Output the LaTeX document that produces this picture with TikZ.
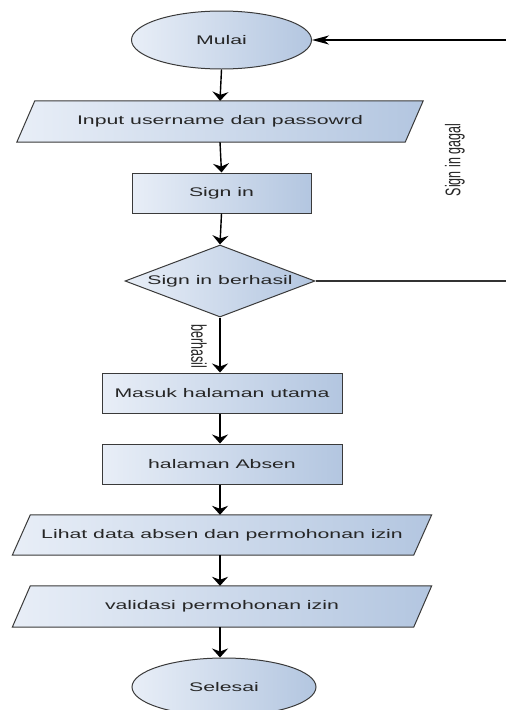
\documentclass[tikz,border=0pt]{standalone}
\usepackage{fontspec}
\setmainfont{Liberation Sans}[FakeStretch=1.7]
\newfontfamily\uprightlabel{Liberation Sans}
\usetikzlibrary{shapes.geometric,arrows.meta}

\definecolor{fillA}{HTML}{E8EEF7}
\definecolor{fillB}{HTML}{B3C6E0}
\definecolor{edge}{HTML}{3A3A3A}
\definecolor{ink}{HTML}{262626}

\tikzset{
  shadefill/.style={draw=edge, line width=1pt, left color=fillA, right color=fillB},
  flowbase/.style={shadefill, inner sep=0pt, text=ink, font=\fontsize{12.5}{14}\selectfont},
  terminal/.style={flowbase, ellipse, minimum width=180pt, minimum height=58pt},
  process/.style={flowbase, rectangle, minimum height=40pt},
  iobody/.style={rectangle, inner sep=0pt, text=ink, font=\fontsize{12.5}{14}\selectfont,
    minimum height=41pt},
  decision/.style={flowbase, diamond, minimum width=190pt, minimum height=72pt},
  flow/.style={draw=black, line width=1.4pt, -{Stealth[length=9pt, width=16pt, inset=3pt]}},
  flowh/.style={draw=black, line width=1.4pt, -{Stealth[length=17pt, width=9pt, inset=5pt]}},
  plain/.style={draw=black!80, line width=1.2pt},
  sidelabel/.style={text=ink, inner sep=0pt},
}

% slanted input/output outline around a named body node
\newcommand{\ioshape}[1]{%
  \path[shadefill] ([xshift=-9pt]#1.south west) -- ([xshift=9pt]#1.north west)
    -- ([xshift=9pt]#1.north east) -- ([xshift=-9pt]#1.south east) -- cycle;}
\newcommand{\vlabel}[1]{\scalebox{1}[1.7]{\uprightlabel\fontsize{12.5}{14}\selectfont #1}}

\begin{document}
\begin{tikzpicture}[x=1pt, y=-1pt]
  \useasboundingbox (0,0) rectangle (506,710);

  % slanted bodies first, text on top
  \node[iobody, minimum width=388pt] (input) at (220,121.5) {};
  \ioshape{input}
  \node[iobody] at (input.center) {Input username dan passowrd};
  \node[iobody, minimum width=401pt, minimum height=40pt] (lihat) at (222,535) {};
  \ioshape{lihat}
  \node[iobody] at (lihat.center) {Lihat data absen dan permohonan izin};
  \node[iobody, minimum width=401pt] (validasi) at (222,606.5) {};
  \ioshape{validasi}
  \node[iobody] at (validasi.center) {validasi permohonan izin};

  % remaining boxes
  \node[terminal] (mulai) at (221.5,40) {Mulai};
  \node[process, minimum width=179pt] (signin) at (221.5,193) {Sign in};
  \node[decision] (cek) at (220,281) {};
  \node[text=ink, font=\fontsize{12.5}{14}\selectfont] (cektext) at (cek.center) {Sign in berhasil};
  \node[process, minimum width=240pt] (utama) at (222,393) {Masuk halaman utama};
  \node[process, minimum width=240pt] (absen) at (222,464) {halaman Absen};
  \node[terminal, minimum width=184pt] (selesai) at (224,687) {Selesai};

  % return branch for a failed sign in
  \coordinate (backin) at (506,40);
  \coordinate (backout) at (506,281);
  \draw[flowh] (backin) -- (mulai.east);
  \draw[plain] (cek.east) -- (backout);
  \node[sidelabel, rotate=90] (gagal) at (455,160) {\vlabel{Sign in gagal}};

  % main flow
  \draw[flow] (mulai.south) -- (input.north);
  \draw[flow] (input.south) -- (signin.north);
  \draw[flow] (signin.south) -- (cek.north);
  \draw[flow] (cek.south) -- (cek.south |- utama.north);
  \node[sidelabel, rotate=-90] (ok) at (199,346) {\vlabel{berhasil}};
  \draw[flow] (utama.south -| cek.south) -- (cek.south |- absen.north);
  \draw[flow] (absen.south -| cek.south) -- (cek.south |- lihat.north);
  \draw[flow] (lihat.south -| cek.south) -- (cek.south |- validasi.north);
  \draw[flow] (validasi.south -| cek.south) -- (cek.south |- selesai.north);
\end{tikzpicture}
\end{document}
